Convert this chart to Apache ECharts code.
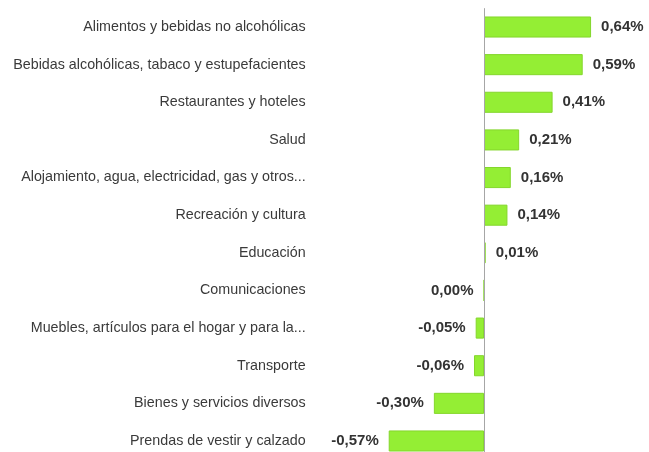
<!DOCTYPE html>
<html><head><meta charset="utf-8">
<script src="https://cdn.jsdelivr.net/npm/echarts@6/dist/echarts.min.js"></script>
<style>html,body{margin:0;padding:0;background:#fff}#c{width:649px;height:452px}</style>
</head><body><div id="c"></div>
<script>
const categories = [
  "Alimentos y bebidas no alcohólicas",
  "Bebidas alcohólicas, tabaco y estupefacientes",
  "Restaurantes y hoteles",
  "Salud",
  "Alojamiento, agua, electricidad, gas y otros...",
  "Recreación y cultura",
  "Educación",
  "Comunicaciones",
  "Muebles, artículos para el hogar y para la...",
  "Transporte",
  "Bienes y servicios diversos",
  "Prendas de vestir y calzado"
];
const values = [0.64, 0.59, 0.41, 0.21, 0.16, 0.14, 0.01, 0.00, -0.05, -0.06, -0.30, -0.57];

const chart = echarts.init(document.getElementById('c'), null, {renderer: 'canvas'});
const fmt = v => v.toFixed(2).replace('.', ',') + '%';
chart.setOption({
  animation: false,
  backgroundColor: '#fff',
  grid: {left: 383.7, width: 217.4, top: 8.2, height: 451.6, containLabel: false, outerBoundsMode: 'none'},
  xAxis: {
    type: 'value', min: -0.6, max: 0.7,
    show: false
  },
  yAxis: {
    type: 'category', data: categories, inverse: true,
    axisLine: {show: false, onZero: false}, axisTick: {show: false},
    axisLabel: {margin: 78, fontFamily: 'Liberation Sans', fontSize: 14.3, color: '#3a3a3a'}
  },
  series: [{
    type: 'bar',
    data: values.map(v => ({
      value: v,
      label: {position: v > 0 ? 'right' : 'left'}
    })),
    barCategoryGap: '44%',
    itemStyle: {color: '#94EE34', borderColor: '#84d62c', borderWidth: 1},
    label: {
      show: true, distance: 10,
      fontFamily: 'Liberation Sans', fontSize: 15, fontWeight: 'bold', color: '#333',
      formatter: p => fmt(p.value)
    },
    markLine: {
      silent: true, symbol: 'none', label: {show: false},
      lineStyle: {color: '#a6a6a6', width: 1, type: 'solid'},
      data: [{xAxis: 0}]
    }
  }]
});
</script></body></html>
